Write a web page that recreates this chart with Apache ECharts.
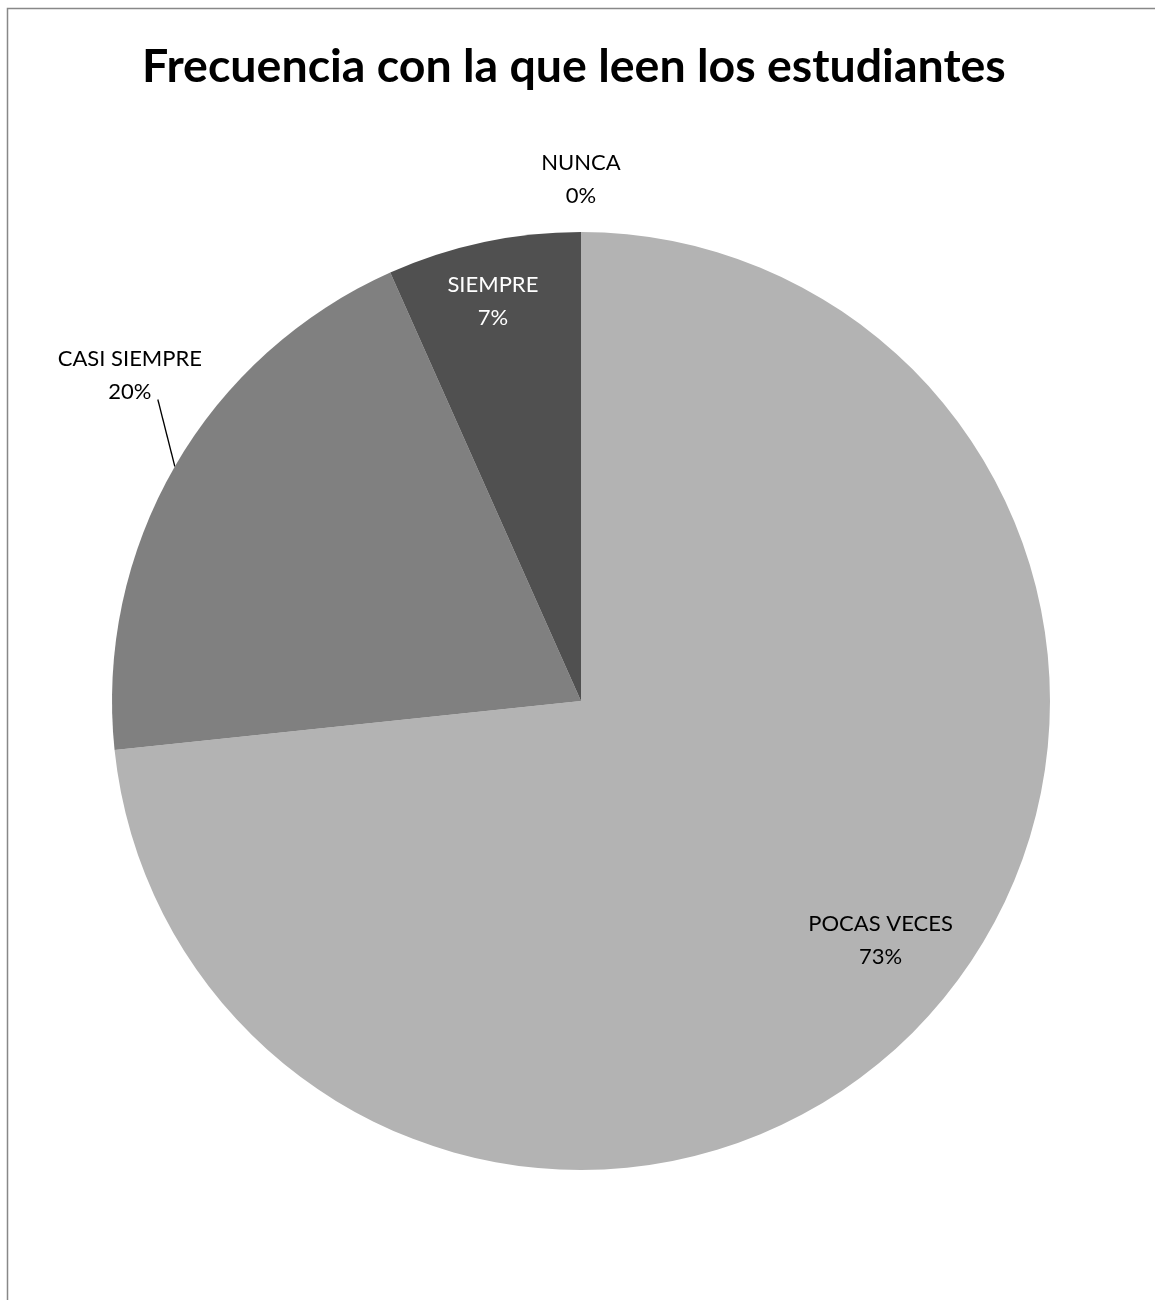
<!DOCTYPE html>
<html>
<head>
<meta charset="utf-8">
<script src="https://cdn.jsdelivr.net/npm/echarts@6/dist/echarts.min.js"></script>
<style>html,body{margin:0;padding:0;background:#fff}#c{width:1155px;height:1300px}</style>
</head>
<body>
<div id="c"></div>
<script>
const titleText = 'Frecuencia con la que leen los estudiantes';
const categories = ['POCAS VECES', 'CASI SIEMPRE', 'SIEMPRE', 'NUNCA'];
const values = [11, 3, 1, 0];
const colors = ['#b3b3b3', '#808080', '#505050', '#3a3a3a'];
const insideLabel = [true, false, true, false];
const labelColors = ['#000000', '#000000', '#ffffff', '#000000'];

const FONT = 'Lato, "Open Sans", sans-serif';
const chart = echarts.init(document.getElementById('c'));

const mainData = categories.map((name, i) => ({
  name, value: values[i],
  itemStyle: { color: colors[i] },
  label: { show: !insideLabel[i] },
  labelLine: { show: i === 1, length: i === 3 ? 20 : 60, length2: 0 }
}));
const innerData = categories.map((name, i) => ({
  name, value: values[i],
  label: { show: insideLabel[i], color: labelColors[i] }
}));

chart.setOption({
  backgroundColor: '#ffffff',
  animation: false,
  title: {
    text: titleText, left: 137, top: 38,
    textStyle: { fontFamily: FONT, fontSize: 46.5, fontWeight: 'bold', color: '#000' }
  },
  graphic: [{
    type: 'rect', left: 5, top: 6, silent: true,
    shape: { width: 1170, height: 1320 },
    style: { fill: 'none', stroke: '#888888', lineWidth: 1.5 }
  }],
  series: [{
    type: 'pie',
    center: [581, 701], radius: 469,
    startAngle: 90, clockwise: true,
    avoidLabelOverlap: false,
    percentPrecision: 0,
    data: mainData,
    itemStyle: { borderWidth: 0 },
    label: {
      position: 'outside',
      formatter: '{b}\n{d}%',
      fontFamily: FONT, fontSize: 22, color: '#000', lineHeight: 33
    },
    labelLine: { lineStyle: { color: '#000', width: 1.3 } },
    labelLayout: function (p) {
      if (p.dataIndex === 1) {
        const a = p.labelLinePoints[0];
        return {
          align: 'center', verticalAlign: 'bottom', dx: 12, dy: -28,
          labelLinePoints: [[a[0], a[1]], [a[0] - 17, a[1] - 67]]
        };
      }
      return { align: 'center', verticalAlign: 'bottom', dx: 5 };
    },
    emphasis: { disabled: true }
  }, {
    type: 'pie',
    center: [581, 701], radius: [315, 469],
    startAngle: 90, clockwise: true,
    avoidLabelOverlap: false,
    percentPrecision: 0,
    silent: true,
    data: innerData,
    itemStyle: { color: 'rgba(0,0,0,0)', borderWidth: 0 },
    label: {
      position: 'inside',
      formatter: '{b}\n{d}%',
      fontFamily: FONT, fontSize: 22, lineHeight: 33
    },
    labelLine: { show: false },
    labelLayout: function (p) {
      if (p.dataIndex === 0) return { dx: 6, dy: -25 };
      if (p.dataIndex === 2) return { dx: -6, dy: -13 };
      return {};
    },
    emphasis: { disabled: true }
  }]
});
</script>
</body>
</html>
